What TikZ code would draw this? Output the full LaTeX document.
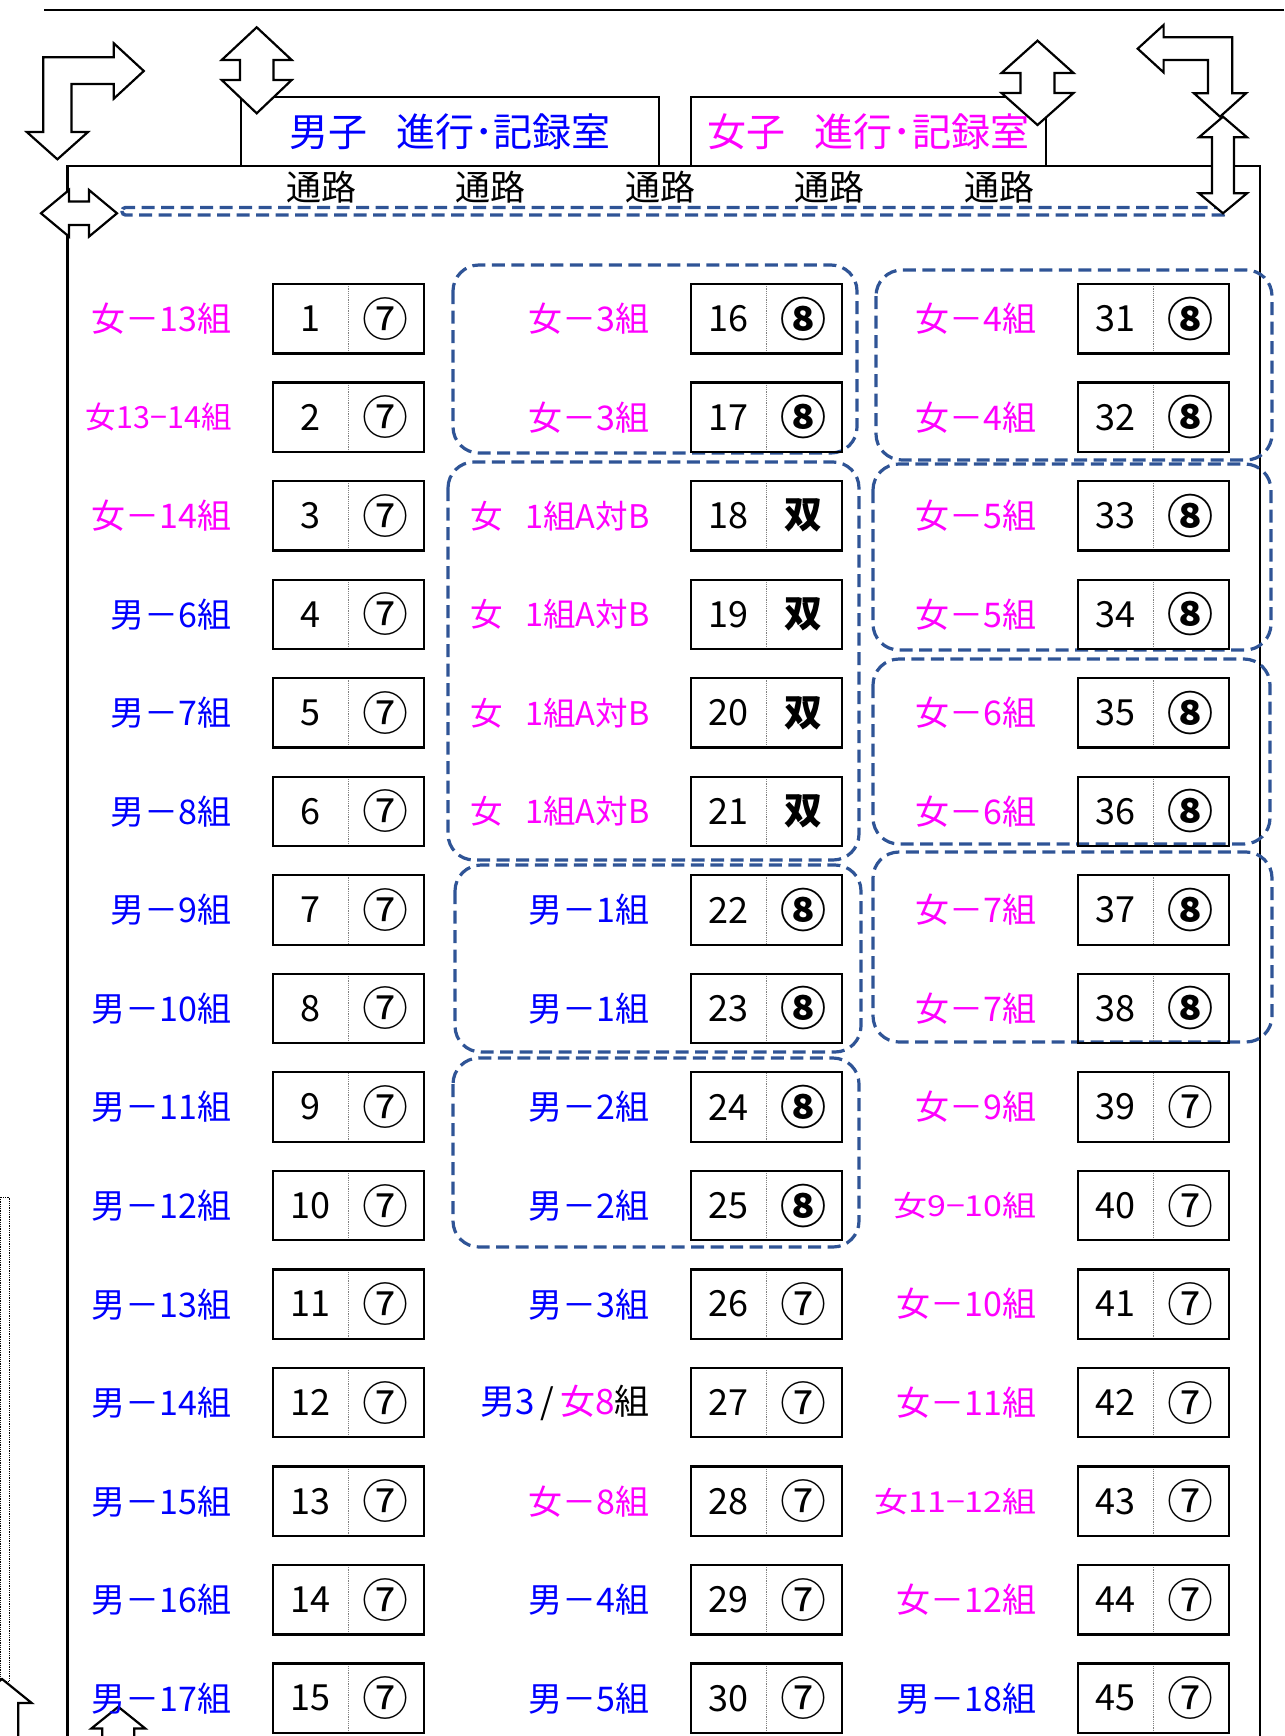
\documentclass[tikz,border=0pt]{standalone}
\usepackage{fontspec}
\setmainfont{Noto Sans CJK JP}
\usetikzlibrary{positioning}
\usepackage{xcolor}
\usepackage{graphicx}

\definecolor{boyblue}{RGB}{0,0,255}
\definecolor{girlpink}{RGB}{255,0,255}
\definecolor{grpblue}{RGB}{47,84,150}

\newcommand\boy[1]{\textcolor{boyblue}{#1}}
\newcommand\girl[1]{\textcolor{girlpink}{#1}}
\newcommand\tinylab{\fontsize{30.5}{32}\selectfont}
\newcommand\pairlab{\fontsize{32.5}{34}\selectfont}
\newcommand\squashlab[1]{\scalebox{1}[0.85]{#1}}
\newcommand\sv{⑦}
\newcommand\eg{{\bfseries ⑧}}
\newcommand\dbl{{\bfseries\fontsize{38}{40}\selectfont 双}}

\begin{document}
\begin{tikzpicture}[
  x=1pt, y=-1pt,
  wall/.style      = {line width=2.8pt},
  room/.style      = {draw, line width=2.2pt, minimum height=68.6pt, inner sep=0pt,
                      font=\fontsize{39}{41}\selectfont},
  aisle/.style     = {inner sep=0pt, font=\fontsize{35}{37}\selectfont},
  barrow/.style    = {draw, fill=white, line width=2.2pt, line join=miter},
  corridor/.style  = {draw=grpblue, line width=3.4pt, dash pattern=on 13pt off 6.5pt,
                      rounded corners=3.5pt},
  grp/.style       = {draw=grpblue, line width=3.2pt, dash pattern=on 13pt off 6.5pt,
                      rounded corners=26pt},
  numcell/.style   = {minimum width=75pt, minimum height=69pt, inner sep=0pt,
                      font=\fontsize{36}{38}\selectfont},
  markcell/.style  = {minimum width=75pt, minimum height=69pt, inner sep=0pt,
                      font=\fontsize{46}{48}\selectfont},
  seatframe/.style = {draw, line width=2.2pt},
  divline/.style   = {draw=gray, line width=1.2pt, densely dotted},
  lab/.style       = {inner sep=0pt, font=\fontsize{34}{36}\selectfont},
]
\useasboundingbox (0,0) rectangle (1284,1736);

% ── Top rule and rooms ───────────────────────────────────────────────────────
\draw[line width=1.5pt] (44,10) -- (1284,10);

\node[room, minimum width=418pt, text=boyblue]  (boyroom)  at (450,131.7)
  {男子\hspace{0.75em}進行･記録室};
\node[room, minimum width=355pt, text=girlpink] (girlroom) at (868.5,131.7)
  {女子\hspace{0.75em}進行･記録室};

\draw[wall] (67.5,1740) -- (67.5,166) -- (1260,166) -- (1260,1740);

% ── Aisle along the front ─────────────────────────────────────────────────────
\foreach \i in {1,...,5}
  \node[aisle] (aisle\i) at (151.5+169.5*\i,187) {通路};

\draw[corridor] (122,207.5) rectangle (1227,215);

% ── Dashed groups ─────────────────────────────────────────────────────────────
\draw[grp] (453,265)  rectangle (857,453);
\draw[grp] (448,462)  rectangle (859,860);
\draw[grp] (455,865)  rectangle (861,1052);
\draw[grp] (453,1058) rectangle (859,1247);
\draw[grp] (876,270)  rectangle (1272,460);
\draw[grp] (873,464)  rectangle (1271,650);
\draw[grp] (873,659)  rectangle (1270,844);
\draw[grp] (873,852)  rectangle (1272,1042);

% ── Bottom-left doors ─────────────────────────────────────────────────────────
\draw[densely dotted, line width=0.8pt] (0.5,1197) rectangle (9.5,1681);
\draw[barrow] (2,1679) -- (31.7,1703) -- (18.3,1703) -- (18.3,1740) -- (-14.3,1740)
  -- (-14.3,1703) -- (-27.7,1703) -- cycle;
\draw[barrow] (118.3,1706.8) -- (145.3,1728.5) -- (134.3,1728.5) -- (134.3,1740)
  -- (102.3,1740) -- (102.3,1728.5) -- (91.3,1728.5) -- cycle;

% ── Column 1: seats 1-15 ──────────────────────────────────────────────────────
\foreach \lab/\mk [count=\r] in {
    {\girl{女－13組}}/\sv, {\girl{\tinylab 女13−14組}}/\sv, {\girl{女－14組}}/\sv,
    {\boy{男－6組}}/\sv,  {\boy{男－7組}}/\sv,  {\boy{男－8組}}/\sv,
    {\boy{男－9組}}/\sv,  {\boy{男－10組}}/\sv, {\boy{男－11組}}/\sv,
    {\boy{男－12組}}/\sv, {\boy{男－13組}}/\sv, {\boy{男－14組}}/\sv,
    {\boy{男－15組}}/\sv, {\boy{男－16組}}/\sv, {\boy{男－17組}}/\sv}{
  \node[numcell] (n\r) at (310.5,220.16+98.54*\r) {\r};
  \node[markcell, right=0pt of n\r] (m\r) {\mk};
  \node[lab, left=41pt of n\r] (l\r) {\lab};
  \draw[divline] (n\r.north east) -- (n\r.south east);
  \draw[seatframe] (n\r.north west) rectangle (m\r.south east);
}

% ── Column 2: seats 16-30 ─────────────────────────────────────────────────────
\foreach \lab/\mk [count=\r from 16] in {
    {\girl{女－3組}}/\eg, {\girl{女－3組}}/\eg,
    {\girl{\pairlab 女\hspace{0.7em}1組A対B}}/\dbl, {\girl{\pairlab 女\hspace{0.7em}1組A対B}}/\dbl,
    {\girl{\pairlab 女\hspace{0.7em}1組A対B}}/\dbl, {\girl{\pairlab 女\hspace{0.7em}1組A対B}}/\dbl,
    {\boy{男－1組}}/\eg, {\boy{男－1組}}/\eg, {\boy{男－2組}}/\eg, {\boy{男－2組}}/\eg,
    {\boy{男－3組}}/\sv, {\fontsize{35}{37}\selectfont\boy{男3}\,/\,\girl{女8}組}/\sv,
    {\girl{女－8組}}/\sv, {\boy{男－4組}}/\sv, {\boy{男－5組}}/\sv}{
  \node[numcell] (n\r) at (728.5,220.16+98.54*\r-1478.1) {\r};
  \node[markcell, right=0pt of n\r] (m\r) {\mk};
  \node[lab, left=41pt of n\r] (l\r) {\lab};
  \draw[divline] (n\r.north east) -- (n\r.south east);
  \draw[seatframe] (n\r.north west) rectangle (m\r.south east);
}

% ── Column 3: seats 31-45 ─────────────────────────────────────────────────────
\foreach \lab/\mk [count=\r from 31] in {
    {\girl{女－4組}}/\eg, {\girl{女－4組}}/\eg, {\girl{女－5組}}/\eg, {\girl{女－5組}}/\eg,
    {\girl{女－6組}}/\eg, {\girl{女－6組}}/\eg, {\girl{女－7組}}/\eg, {\girl{女－7組}}/\eg,
    {\girl{女－9組}}/\sv, {\girl{\squashlab{女9−10組}}}/\sv, {\girl{女－10組}}/\sv,
    {\girl{女－11組}}/\sv, {\girl{\squashlab{女11−12組}}}/\sv, {\girl{女－12組}}/\sv,
    {\boy{男－18組}}/\sv}{
  \node[numcell] (n\r) at (1115.5,220.16+98.54*\r-2956.2) {\r};
  \node[markcell, right=0pt of n\r] (m\r) {\mk};
  \node[lab, left=41pt of n\r] (l\r) {\lab};
  \draw[divline] (n\r.north east) -- (n\r.south east);
  \draw[seatframe] (n\r.north west) rectangle (m\r.south east);
}

% ── Doors and directions (block arrows) ───────────────────────────────────────
\draw[barrow] (43.3,57.3) -- (113.8,57.3) -- (113.8,43.3) -- (143.8,71) -- (113.8,98.7)
  -- (113.8,84) -- (71.4,84) -- (71.4,132) -- (88,132) -- (57.4,159.3) -- (26.8,132)
  -- (43.3,132) -- cycle;
\draw[barrow] (256.7,27.3) -- (291.7,60) -- (273.4,60) -- (273.4,80) -- (291.7,80)
  -- (256.7,113.3) -- (221.7,80) -- (240,80) -- (240,60) -- (221.7,60) -- cycle;
\draw[barrow] (1037.5,40.7) -- (1073.5,73) -- (1054.5,73) -- (1054.5,93) -- (1073.5,93)
  -- (1037.5,125) -- (1001.5,93) -- (1020.5,93) -- (1020.5,73) -- (1001.5,73) -- cycle;
\draw[barrow] (1232.2,37.3) -- (1163.6,37.3) -- (1163.6,25) -- (1137.7,48.7) -- (1163.6,72.4)
  -- (1163.6,60) -- (1208,60) -- (1208,93.3) -- (1194,93.3) -- (1220,116.7) -- (1246,93.3)
  -- (1232.2,93.3) -- cycle;
\draw[barrow] (1223,116.7) -- (1247,137.3) -- (1234,137.3) -- (1234,193.3) -- (1247,193.3)
  -- (1223,213.3) -- (1199,193.3) -- (1212,193.3) -- (1212,137.3) -- (1199,137.3) -- cycle;
\draw[barrow] (41,213.3) -- (69,190) -- (69,201.6) -- (89,201.6) -- (89,190) -- (117,213.3)
  -- (89,236.6) -- (89,225) -- (69,225) -- (69,236.6) -- cycle;

\end{tikzpicture}
\end{document}
